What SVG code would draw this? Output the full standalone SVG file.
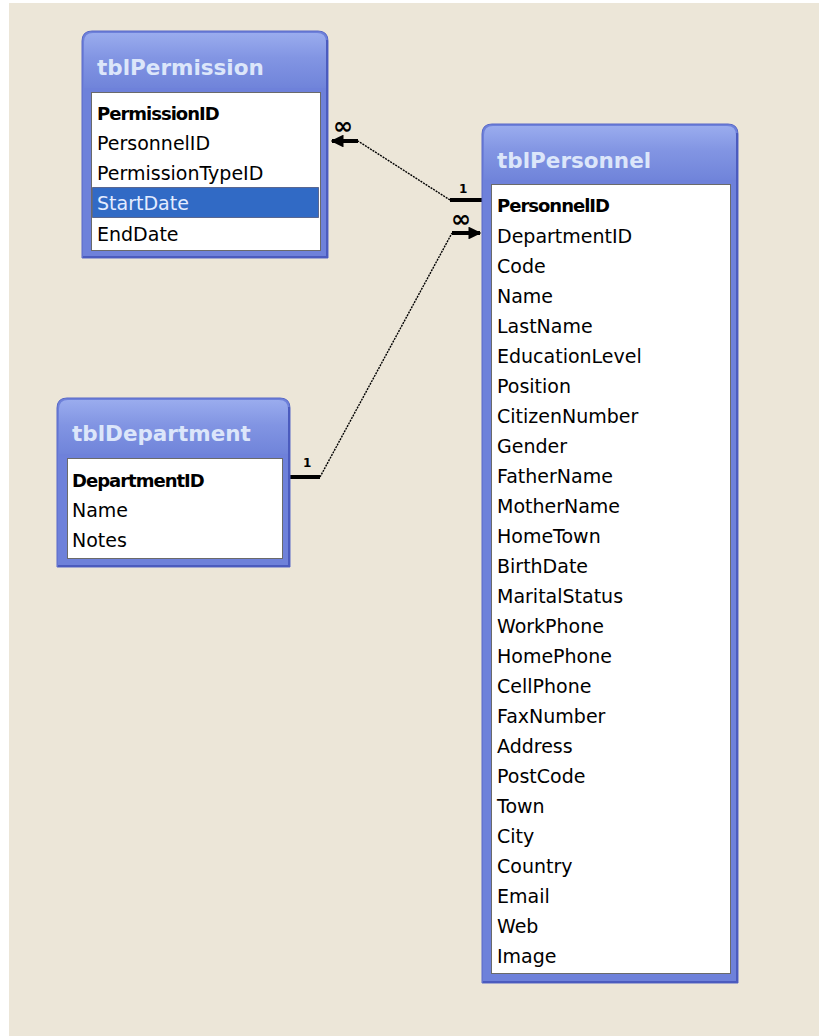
<svg xmlns="http://www.w3.org/2000/svg" width="819" height="1036" viewBox="0 0 819 1036">
  <defs>
    <linearGradient id="titleGrad" x1="0" y1="0" x2="0" y2="1">
      <stop offset="0" stop-color="#9AACEE"/>
      <stop offset="0.45" stop-color="#8295E3"/>
      <stop offset="1" stop-color="#7084DA"/>
    </linearGradient>
    <marker id="arrowHead" viewBox="0 0 10 10" refX="9" refY="5" markerWidth="3.2" markerHeight="3.2" orient="auto" markerUnits="strokeWidth">
      <path d="M0,0 L10,5 L0,10 Z" fill="#000"/>
    </marker>
    <style>
      .frame { fill: #6E81DA; stroke: #5868C8; stroke-width: 1; }
      .edge { fill: none; stroke: #4B5BBE; stroke-width: 2; }
      .title { font-family: "DejaVu Sans", "Liberation Sans", sans-serif; font-weight: bold; font-size: 21.5px; fill: #DCE6FA; }
      .list { fill: #FFFFFF; stroke: #6A6A6A; stroke-width: 1; }
      .field { font-family: "DejaVu Sans", "Liberation Sans", sans-serif; font-size: 19px; fill: #000; }
      .key { font-family: "DejaVu Sans", "Liberation Sans", sans-serif; font-size: 18px; font-weight: bold; fill: #000; letter-spacing: -1px; }
      .sel { fill: #316AC5; stroke: #1A1A40; stroke-width: 1; stroke-dasharray: 1 1; }
      .selText { font-family: "DejaVu Sans", "Liberation Sans", sans-serif; font-size: 19px; fill: #E4ECFF; }
      .thin { fill: none; stroke: #000; stroke-width: 1.4; stroke-dasharray: 2 1; }
      .thick { fill: none; stroke: #000; stroke-width: 4; }
      .card { font-family: "DejaVu Sans", "Liberation Sans", sans-serif; font-weight: bold; font-size: 12px; fill: #000; }
      .many { font-family: "DejaVu Sans", "Liberation Sans", sans-serif; font-weight: bold; font-size: 24px; fill: #000; }
    </style>
  </defs>

  <!-- canvas -->
  <rect x="0" y="0" width="819" height="1036" fill="#FFFFFF"/>
  <rect x="9" y="3" width="810" height="1033" fill="#ECE6D8"/>

  <!-- relationship lines -->
  <g id="connectors">
    <!-- tblPersonnel.PersonnelID (1) to tblPermission.PersonnelID (many) -->
    <path class="thick" d="M482,200 L450,200"/>
    <path class="thin" d="M450,200 L358,141"/>
    <path class="thick" d="M358,141 L332,141" marker-end="url(#arrowHead)"/>
    <text class="card" x="459" y="193">1</text>
    <text class="many" x="333" y="134">∞</text>
    <!-- tblDepartment.DepartmentID (1) to tblPersonnel.DepartmentID (many) -->
    <path class="thick" d="M290,477 L320,477"/>
    <path class="thin" d="M320,477 L452,233"/>
    <path class="thick" d="M452,233 L480,233" marker-end="url(#arrowHead)"/>
    <text class="card" x="303" y="467">1</text>
    <text class="many" x="451" y="227">∞</text>
  </g>

  <!-- tblPermission -->
  <g id="tblPermission">
    <path class="frame" d="M82,258 L82,41 Q82,31 92,31 L318,31 Q328,31 328,41 L328,258 Z"/>
    <path d="M84,88 L84,42 Q84,33 93,33 L317,33 Q326,33 326,42 L326,88 Z" fill="url(#titleGrad)"/>
    <path class="edge" d="M327,40 L327,257 L83,257"/>
    <text class="title" x="97" y="75">tblPermission</text>
    <rect class="list" x="91.5" y="92.5" width="229" height="158"/>
    <text class="key" x="97" y="120">PermissionID</text>
    <text class="field" x="97" y="150">PersonnelID</text>
    <text class="field" x="97" y="180">PermissionTypeID</text>
    <rect class="sel" x="92.5" y="187.5" width="226" height="30"/>
    <text class="selText" x="97" y="210">StartDate</text>
    <text class="field" x="97" y="241">EndDate</text>
  </g>

  <!-- tblDepartment -->
  <g id="tblDepartment">
    <path class="frame" d="M57,567 L57,408 Q57,398 67,398 L280,398 Q290,398 290,408 L290,567 Z"/>
    <path d="M59,454 L59,409 Q59,400 68,400 L279,400 Q288,400 288,409 L288,454 Z" fill="url(#titleGrad)"/>
    <path class="edge" d="M289,407 L289,566 L58,566"/>
    <text class="title" x="72" y="441">tblDepartment</text>
    <rect class="list" x="67.5" y="458.5" width="215" height="100"/>
    <text class="key" x="72" y="487">DepartmentID</text>
    <text class="field" x="72" y="517">Name</text>
    <text class="field" x="72" y="547">Notes</text>
  </g>

  <!-- tblPersonnel -->
  <g id="tblPersonnel">
    <path class="frame" d="M482,983 L482,134 Q482,124 492,124 L728,124 Q738,124 738,134 L738,983 Z"/>
    <path d="M484,180 L484,135 Q484,126 493,126 L727,126 Q736,126 736,135 L736,180 Z" fill="url(#titleGrad)"/>
    <path class="edge" d="M737,133 L737,982 L483,982"/>
    <text class="title" x="497" y="168">tblPersonnel</text>
    <rect class="list" x="491.5" y="184.5" width="239" height="789"/>
    <text class="key" x="497" y="212">PersonnelID</text>
    <text class="field" x="497" y="243">DepartmentID</text>
    <text class="field" x="497" y="273">Code</text>
    <text class="field" x="497" y="303">Name</text>
    <text class="field" x="497" y="333">LastName</text>
    <text class="field" x="497" y="363">EducationLevel</text>
    <text class="field" x="497" y="393">Position</text>
    <text class="field" x="497" y="423">CitizenNumber</text>
    <text class="field" x="497" y="453">Gender</text>
    <text class="field" x="497" y="483">FatherName</text>
    <text class="field" x="497" y="513">MotherName</text>
    <text class="field" x="497" y="543">HomeTown</text>
    <text class="field" x="497" y="573">BirthDate</text>
    <text class="field" x="497" y="603">MaritalStatus</text>
    <text class="field" x="497" y="633">WorkPhone</text>
    <text class="field" x="497" y="663">HomePhone</text>
    <text class="field" x="497" y="693">CellPhone</text>
    <text class="field" x="497" y="723">FaxNumber</text>
    <text class="field" x="497" y="753">Address</text>
    <text class="field" x="497" y="783">PostCode</text>
    <text class="field" x="497" y="813">Town</text>
    <text class="field" x="497" y="843">City</text>
    <text class="field" x="497" y="873">Country</text>
    <text class="field" x="497" y="903">Email</text>
    <text class="field" x="497" y="933">Web</text>
    <text class="field" x="497" y="963">Image</text>
  </g>
</svg>
